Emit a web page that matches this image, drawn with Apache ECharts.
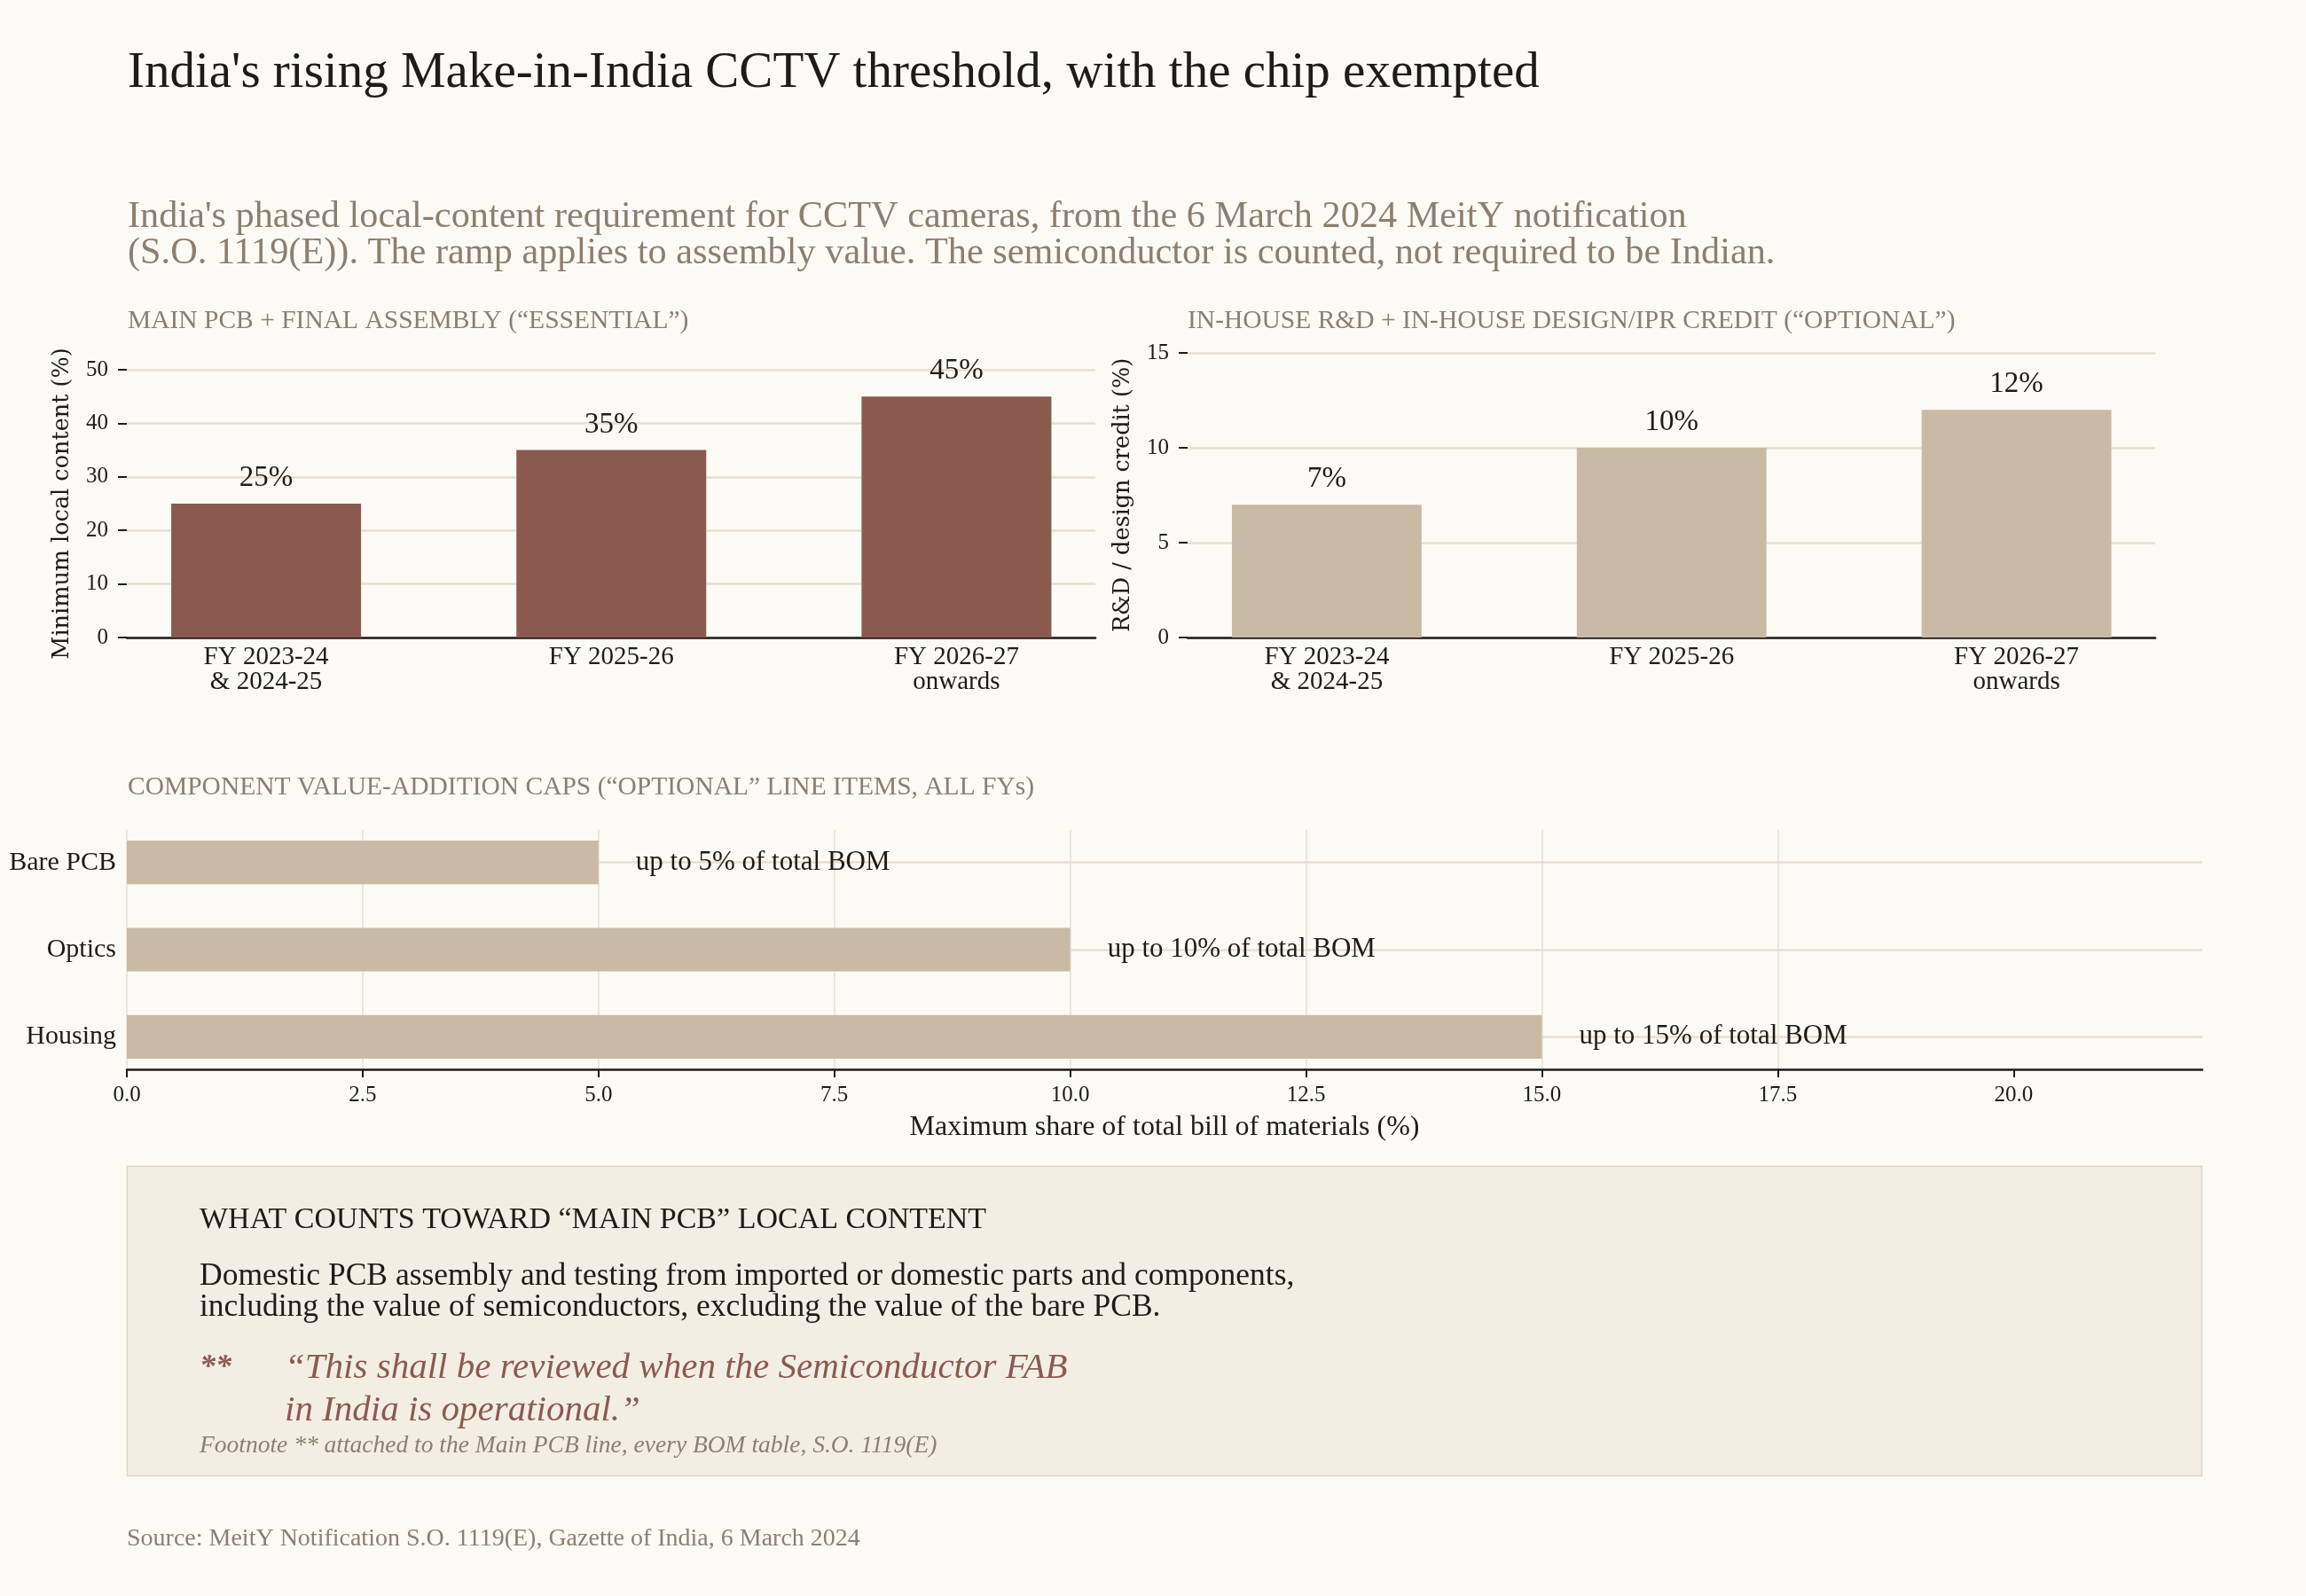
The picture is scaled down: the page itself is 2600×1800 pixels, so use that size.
<!DOCTYPE html>
<html>
<head>
<meta charset="utf-8">
<title>Make-in-India CCTV threshold</title>
<script src="https://cdn.jsdelivr.net/npm/echarts@6.0.0/dist/echarts.min.js"></script>
<style>
  html, body { margin: 0; padding: 0; background: #fbfaf5; }
  #chart { width: 2600px; height: 1800px; }
</style>
</head>
<body>
<div id="chart"></div>
<script>
// ---- data ----
var fyLabels = ['FY 2023-24\n& 2024-25', 'FY 2025-26', 'FY 2026-27\nonwards'];
var mainPcbShare = [25, 35, 45];
var rdCredit = [7, 10, 12];
var components = ['Bare PCB', 'Optics', 'Housing'];
var componentCaps = [5, 10, 15];
var bomTicks = [0, 2.5, 5, 7.5, 10, 12.5, 15, 17.5, 20];

// ---- look ----
var FONT = '"Liberation Serif", serif';
var AXISNAME_FONT = '"DejaVu Serif", serif';
var INK = '#1f1b18';
var MUTED = '#8b7f6f';
var GRID = '#e6dfd0';
var BROWN = '#8b5a4e';
var SAND = '#c9baa5';

var chart = echarts.init(document.getElementById('chart'));

function hiddenValueAxis(gridIndex, max) {
  return {
    type: 'value', gridIndex: gridIndex, min: 0, max: max,
    show: false
  };
}

function textEl(x, y, text, size, color, extra) {
  var st = {
    text: text, x: 0, y: 0, fill: color,
    fontSize: size, fontFamily: FONT, verticalAlign: 'middle', align: 'left'
  };
  for (var k in (extra || {})) st[k] = extra[k];
  return { type: 'text', x: x, y: y, z: 10, style: st };
}

var option = {
  backgroundColor: '#fbfaf5',
  textStyle: { fontFamily: FONT },
  animation: false,
  grid: [
    { left: 143, top: 417, width: 1092, height: 302 },      // 0 left axes
    { left: 105.5, top: 417, width: 1167.5, height: 302 },  // 1 left bars
    { left: 1339, top: 398, width: 1091, height: 321 },     // 2 right axes
    { left: 1301.5, top: 398, width: 1166.5, height: 321 }, // 3 right bars
    { left: 143, top: 936, width: 2340, height: 270 },      // 4 bottom axes
    { left: 143, top: 923.5, width: 2340, height: 295 }     // 5 bottom bars
  ],
  xAxis: [
    {
      type: 'value', gridIndex: 0, min: 0, max: 1,
      axisLine: { show: true, onZero: false, lineStyle: { color: INK, width: 2.5 } },
      axisTick: { show: false }, axisLabel: { show: false }, splitLine: { show: false }
    },
    {
      type: 'category', gridIndex: 1, data: fyLabels,
      axisLine: { show: false }, axisTick: { show: false }, splitLine: { show: false },
      axisLabel: { color: INK, fontSize: 29, lineHeight: 28, margin: 8, fontFamily: FONT }
    },
    {
      type: 'value', gridIndex: 2, min: 0, max: 1,
      axisLine: { show: true, onZero: false, lineStyle: { color: INK, width: 2.5 } },
      axisTick: { show: false }, axisLabel: { show: false }, splitLine: { show: false }
    },
    {
      type: 'category', gridIndex: 3, data: fyLabels,
      axisLine: { show: false }, axisTick: { show: false }, splitLine: { show: false },
      axisLabel: { color: INK, fontSize: 29, lineHeight: 28, margin: 8, fontFamily: FONT }
    },
    {
      type: 'value', gridIndex: 4, min: 0, max: 22, interval: 2.5,
      name: 'Maximum share of total bill of materials (%)',
      nameLocation: 'middle', nameGap: 50,
      nameTextStyle: { color: INK, fontSize: 32, fontFamily: FONT },
      axisLine: { show: true, onZero: false, lineStyle: { color: INK, width: 2.5 } },
      axisTick: { show: true, length: 9, customValues: bomTicks, lineStyle: { color: INK, width: 2 } },
      axisLabel: {
        color: INK, fontSize: 25, margin: 17, customValues: bomTicks,
        formatter: function (v) { return v.toFixed(1); }
      },
      splitLine: { show: true, showMaxLine: false, lineStyle: { color: GRID, width: 1.5 } }
    },
    hiddenValueAxis(5, 22)
  ],
  yAxis: [
    {
      type: 'value', gridIndex: 0, min: 0, max: 50, interval: 10,
      name: 'Minimum local content (%)', nameLocation: 'middle', nameGap: 60,
      nameTextStyle: { color: INK, fontSize: 25.5, fontFamily: AXISNAME_FONT },
      axisLine: { show: false },
      axisTick: { show: true, length: 10, lineStyle: { color: INK, width: 2 } },
      axisLabel: { color: INK, fontSize: 25, margin: 21 },
      splitLine: { show: true, lineStyle: { color: GRID, width: 2.5 } }
    },
    hiddenValueAxis(1, 50),
    {
      type: 'value', gridIndex: 2, min: 0, max: 15, interval: 5,
      name: 'R&D / design credit (%)', nameLocation: 'middle', nameGap: 60,
      nameTextStyle: { color: INK, fontSize: 25.5, fontFamily: AXISNAME_FONT },
      axisLine: { show: false },
      axisTick: { show: true, length: 10, lineStyle: { color: INK, width: 2 } },
      axisLabel: { color: INK, fontSize: 25, margin: 21 },
      splitLine: { show: true, lineStyle: { color: GRID, width: 2.5 } }
    },
    hiddenValueAxis(3, 15),
    { type: 'value', gridIndex: 4, min: 0, max: 1, show: false },
    {
      type: 'category', gridIndex: 5, data: components, inverse: true,
      axisLine: { show: false }, axisTick: { show: false },
      axisLabel: { color: INK, fontSize: 30, margin: 12 },
      splitLine: { show: true, alignWithLabel: true, lineStyle: { color: GRID, width: 2.5 } }
    }
  ],
  series: [
    {
      type: 'bar', xAxisIndex: 1, yAxisIndex: 1, data: mainPcbShare,
      barCategoryGap: '45%', itemStyle: { color: BROWN },
      label: {
        show: true, position: 'top', distance: 12, formatter: '{c}%',
        color: INK, fontSize: 33, lineHeight: 33, fontFamily: FONT
      }
    },
    {
      type: 'bar', xAxisIndex: 3, yAxisIndex: 3, data: rdCredit,
      barCategoryGap: '45%', itemStyle: { color: SAND },
      label: {
        show: true, position: 'top', distance: 12, formatter: '{c}%',
        color: INK, fontSize: 33, lineHeight: 33, fontFamily: FONT
      }
    },
    {
      type: 'bar', xAxisIndex: 5, yAxisIndex: 5, data: componentCaps,
      barCategoryGap: '50%', itemStyle: { color: SAND },
      label: {
        show: true, position: 'right', distance: 42,
        formatter: function (p) { return 'up to ' + p.value + '% of total BOM'; },
        color: INK, fontSize: 31, fontFamily: FONT
      }
    }
  ],
  graphic: [
    textEl(144, 83, "India's rising Make-in-India CCTV threshold, with the chip exempted", 57, INK,
      { fontWeight: 'normal' }),
    textEl(144, 224.5,
      "India's phased local-content requirement for CCTV cameras, from the 6 March 2024 MeitY notification\n" +
      "(S.O. 1119(E)). The ramp applies to assembly value. The semiconductor is counted, not required to be Indian.",
      42.3, MUTED, { verticalAlign: 'top', lineHeight: 41 }),
    textEl(144, 362, 'MAIN PCB + FINAL ASSEMBLY (\u201cESSENTIAL\u201d)', 29.5, MUTED),
    textEl(1339, 362, 'IN-HOUSE R&D + IN-HOUSE DESIGN/IPR CREDIT (\u201cOPTIONAL\u201d)', 29.5, MUTED),
    textEl(144, 888, 'COMPONENT VALUE-ADDITION CAPS (\u201cOPTIONAL\u201d LINE ITEMS, ALL FYs)', 29.5, MUTED),
    {
      type: 'rect', z: 5,
      shape: { x: 143.5, y: 1315.5, width: 2339, height: 349 },
      style: { fill: '#f3eee4', stroke: '#ddd5c2', lineWidth: 1.5 }
    },
    textEl(225, 1376, 'WHAT COUNTS TOWARD \u201cMAIN PCB\u201d LOCAL CONTENT', 34, INK),
    textEl(225, 1422.5,
      'Domestic PCB assembly and testing from imported or domestic parts and components,\n' +
      'including the value of semiconductors, excluding the value of the bare PCB.',
      35.5, INK, { verticalAlign: 'top', lineHeight: 35 }),
    textEl(225, 1543, '**', 36, BROWN, { fontStyle: 'italic', fontWeight: 'bold' }),
    textEl(321, 1519,
      '\u201cThis shall be reviewed when the Semiconductor FAB\nin India is operational.\u201d',
      41, BROWN, { fontStyle: 'italic', verticalAlign: 'top', lineHeight: 48 }),
    textEl(225, 1631, 'Footnote ** attached to the Main PCB line, every BOM table, S.O. 1119(E)', 27.5, MUTED,
      { fontStyle: 'italic' }),
    textEl(143, 1736, 'Source: MeitY Notification S.O. 1119(E), Gazette of India, 6 March 2024', 28, MUTED)
  ]
};

chart.setOption(option);
</script>
</body>
</html>
